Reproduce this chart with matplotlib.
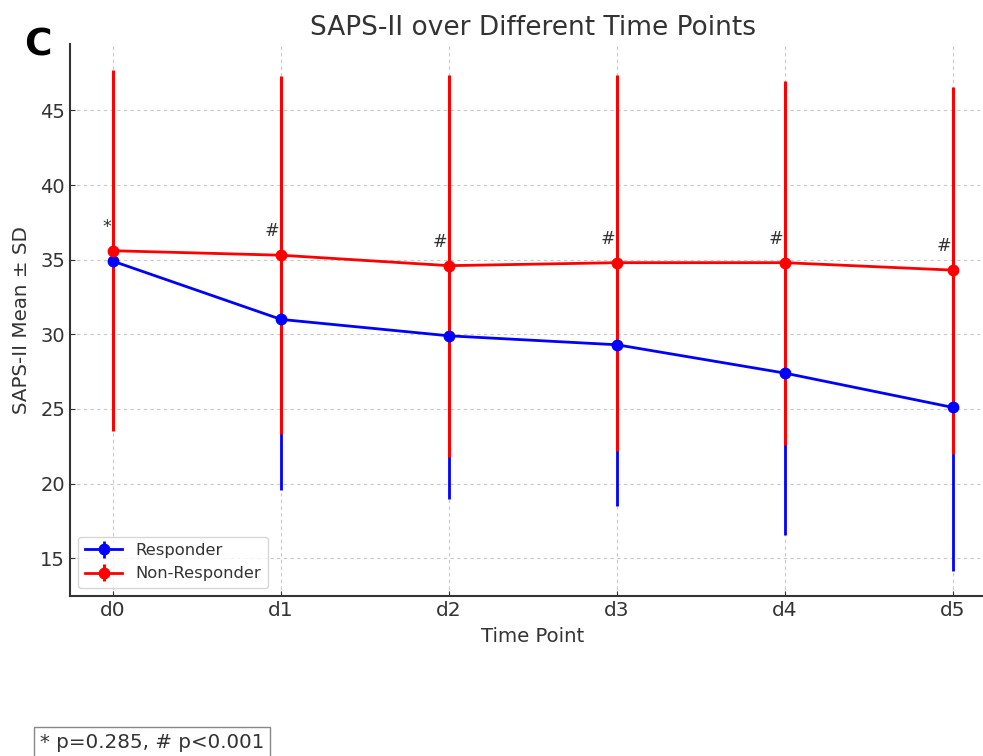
import matplotlib
matplotlib.use("Agg")
import matplotlib.pyplot as plt

# values
time_points = ["d0", "d1", "d2", "d3", "d4", "d5"]
resp_mean = [34.9, 31.0, 29.9, 29.3, 27.4, 25.1]
resp_sd = [11.0, 11.4, 10.95, 10.8, 10.85, 10.95]
nonresp_mean = [35.6, 35.3, 34.6, 34.8, 34.8, 34.3]
nonresp_sd = [12.1, 12.0, 12.8, 12.6, 12.2, 12.3]
sig_marks = ["*", "#", "#", "#", "#", "#"]
footnote = "* p=0.285, # p<0.001"

TXT = "#333333"

fig = plt.figure(figsize=(9.83, 7.56), dpi=100)
ax = fig.add_axes([70 / 983, 1 - 596 / 756, 925 / 983, 552 / 756])

x = list(range(len(time_points)))
eb_r = ax.errorbar(x, resp_mean, yerr=resp_sd, color="blue", marker="o", ms=7.5,
                   lw=2, elinewidth=2, capsize=0, label="Responder", zorder=2)
eb_n = ax.errorbar(x, nonresp_mean, yerr=nonresp_sd, color="red", marker="o", ms=7.5,
                   lw=2, elinewidth=2.2, capsize=0, label="Non-Responder", zorder=3)
# keep the mean lines and dots above both sets of bars
eb_r[0].set_zorder(4)
eb_n[0].set_zorder(5)

for i, m in enumerate(sig_marks):
    ax.text(x[i] - 0.01, nonresp_mean[i] + 1.0, m, ha="right", va="bottom",
            fontsize=12.5, color=TXT)

ax.set_xlim(-0.256, 5.25)
ax.set_ylim(12.47, 49.45)
ax.set_xticks(x)
ax.set_xticklabels(time_points)
ax.set_yticks([15, 20, 25, 30, 35, 40, 45])
ax.tick_params(direction="in", labelsize=14, labelcolor=TXT, color=TXT)
ax.tick_params(axis="x", labelsize=14.5)
ax.grid(True, linestyle=(0, (3, 3)), color="#c8c8c8", lw=0.8)
ax.set_axisbelow(True)
for s in ["top", "right"]:
    ax.spines[s].set_visible(False)
for s in ["left", "bottom"]:
    ax.spines[s].set_color(TXT)
    ax.spines[s].set_linewidth(1.5)

ax.set_title("SAPS-II over Different Time Points", fontsize=19, color=TXT, pad=6.5)
ax.set_xlabel("Time Point", fontsize=14.2, color=TXT, labelpad=5)
ax.set_ylabel("SAPS-II Mean ± SD", fontsize=14.3, color=TXT, labelpad=7)
ax.legend(loc="lower left", fontsize=11.8, framealpha=0.8, edgecolor="#cccccc",
          labelcolor=TXT, handlelength=2.3)

fig.text(24 / 983, 1 - 46 / 756, "C", fontsize=27, fontweight="bold", va="center")
fig.text(40 / 983, 1 - 742 / 756, footnote, fontsize=14.3, color=TXT, va="center",
         bbox=dict(boxstyle="square,pad=0.3", fc="white", ec="#888888"))

fig.savefig("out.png", dpi=100)
